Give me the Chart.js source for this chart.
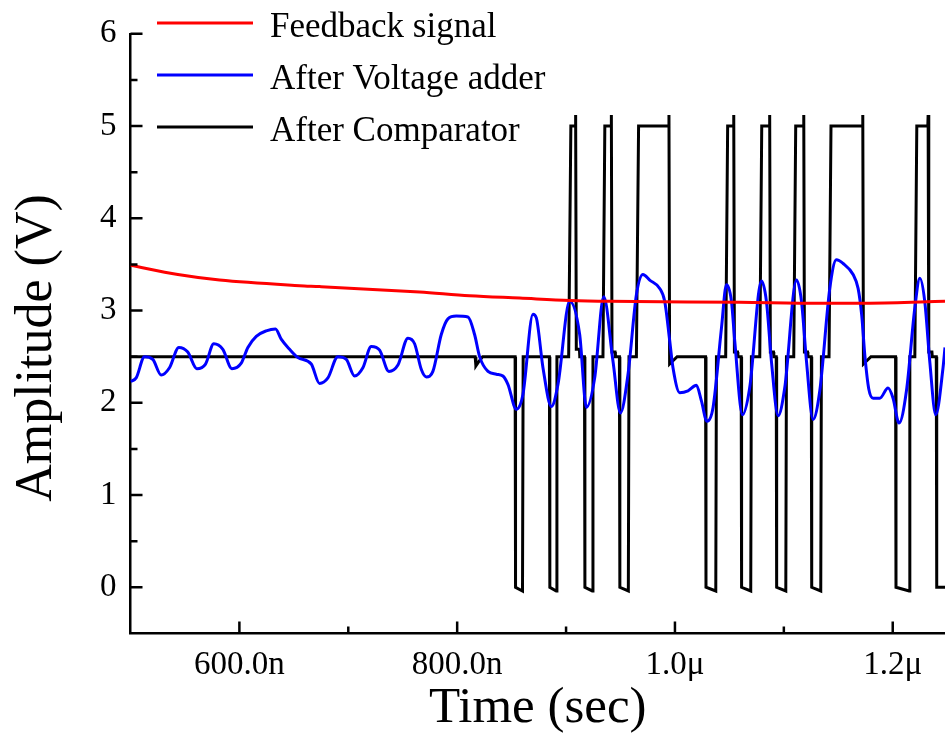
<!DOCTYPE html>
<html>
<head>
<meta charset="utf-8">
<title>Comparator output</title>
<script src="https://cdn.jsdelivr.net/npm/chart.js@4.4.1/dist/chart.umd.min.js"></script>
<style>
    html, body { margin: 0; padding: 0; background: #fff; }
    #wrap { width: 945px; height: 755px; position: relative; }
</style>
</head>
<body>
<div id="wrap"><canvas id="scope-chart"></canvas></div>
<script>
// time in ns, amplitude in V
const feedback_t = [500, 543.5, 581.8, 655.3, 673.6, 765.5, 811.4, 857.4, 903.3, 940, 1059.5, 1133, 1179, 1248];
const feedback_v = [3.49, 3.39, 3.33, 3.27, 3.26, 3.20, 3.16, 3.135, 3.11, 3.10, 3.09, 3.08, 3.08, 3.10];

const adder_t = [500, 505.2, 512.9, 520.5, 528.2, 535.8, 544.4, 552.6, 560.9, 568.9, 576.5, 584.8, 593.1, 601.7,
    607.8, 615.5, 624.7, 633.2, 638.4, 646.1, 653.7, 666.0, 673.6, 681.3, 690.4, 698.2, 705.8, 713.4, 721.1,
    728.8, 737.3, 745.6, 754.8, 760.9, 767.1, 771.7, 777.7, 785.4, 791.5, 799.2, 809.9, 816.0, 820.6, 828.3,
    836.0, 842.0, 846.6, 854.3, 860.4, 869.6, 872.7, 878.8, 886.5, 892.6, 903.3, 912.5, 918.7, 926.3, 934.6,
    943.1, 949.9, 956.9, 964.6, 970.6, 976.8, 986.0, 990.6, 995.2, 998.2, 1004.4, 1012.0, 1019.7, 1024.3,
    1029.4, 1035.0, 1042.7, 1047.3, 1051.9, 1054.9, 1062.0, 1068.6, 1079.4, 1084.0, 1088.6, 1094.7, 1100.8,
    1111.6, 1116.2, 1120.8, 1126.8, 1133.0, 1142.2, 1148.3, 1154.4, 1163.6, 1168.2, 1171.5, 1174.5, 1178.0,
    1182.0, 1188.1, 1195.7, 1200.3, 1205.8, 1212.6, 1220.3, 1224.9, 1229.4, 1234.0, 1239.5, 1246.2, 1248];
const adder_v = [2.23, 2.27, 2.50, 2.47, 2.30, 2.38, 2.60, 2.55, 2.37, 2.42, 2.64, 2.58, 2.37, 2.43,
    2.60, 2.72, 2.78, 2.80, 2.69, 2.58, 2.49, 2.42, 2.21, 2.27, 2.50, 2.47, 2.29, 2.38, 2.61,
    2.57, 2.34, 2.41, 2.70, 2.64, 2.36, 2.28, 2.34, 2.74, 2.91, 2.94, 2.93, 2.74, 2.50, 2.34,
    2.31, 2.29, 2.20, 1.93, 2.09, 2.96, 2.92, 2.38, 1.96, 2.20, 3.10, 2.74, 1.95, 2.27, 3.15,
    2.45, 1.89, 2.31, 3.17, 3.39, 3.33, 3.24, 3.10, 2.67, 2.38, 2.11, 2.13, 2.19, 2.02,
    1.80, 1.95, 2.81, 3.28, 3.10, 2.67, 1.87, 2.16, 3.32, 3.10, 2.45, 1.86, 2.16,
    3.33, 3.10, 2.45, 1.82, 2.13, 3.24, 3.55, 3.51, 3.39, 3.24, 2.95, 2.50, 2.15,
    2.05, 2.05, 2.16, 2.05, 1.78, 2.13, 3.03, 3.35, 3.10, 2.45, 1.87, 2.38, 2.60];

const comparator_t = [500, 816.5, 817.2, 819.5, 823.4,
    853.2, 853.6, 860.0, 860.6, 884.7, 885.1, 891.0, 891.6,
    902.4, 904.4, 908.5, 908.8, 909.4, 912.3, 912.6,
    916.9, 917.3, 924.1, 924.7,
    933.9, 935.6, 941.3, 941.6, 942.2, 945.0, 945.3,
    949.0, 949.4, 957.2, 957.8,
    964.6, 966.6, 994.2, 994.5, 995.1, 1002,
    1028.1, 1028.5, 1037.5, 1038.1,
    1046.6, 1048.4, 1053.7, 1054.0, 1054.6, 1057.5, 1057.8,
    1060.8, 1061.2, 1069.6, 1070.2,
    1077.9, 1079.7, 1086.7, 1087.0, 1087.6, 1090.5, 1090.8,
    1093.0, 1093.4, 1101.8, 1102.4,
    1109.1, 1110.9, 1118.0, 1118.3, 1118.9, 1121.8, 1122.1,
    1125.2, 1125.6, 1133.9, 1134.5,
    1141.5, 1143.3, 1172.2, 1172.5, 1173.1, 1180,
    1202.6, 1203.0, 1215.1, 1215.7,
    1220.3, 1222.1, 1232.2, 1232.5, 1233.1, 1236.0, 1236.3,
    1240.0, 1240.4, 1248];
const comparator_v = [2.5, 2.5, 2.4, 2.44, 2.5,
    2.5, 0, -0.04, 2.5, 2.5, 0, -0.04, 2.5,
    2.5, 5.0, 5.0, 5.12, 2.58, 2.58, 2.5,
    2.5, 0, -0.04, 2.5,
    2.5, 5.0, 5.0, 5.12, 2.55, 2.55, 2.5,
    2.5, 0, -0.04, 2.5,
    2.5, 5.0, 5.0, 5.12, 2.42, 2.5,
    2.5, 0, -0.04, 2.5,
    2.5, 5.0, 5.0, 5.12, 2.55, 2.55, 2.5,
    2.5, 0, -0.04, 2.5,
    2.5, 5.0, 5.0, 5.12, 2.55, 2.55, 2.5,
    2.5, 0, -0.04, 2.5,
    2.5, 5.0, 5.0, 5.12, 2.55, 2.55, 2.5,
    2.5, 0, -0.04, 2.5,
    2.5, 5.0, 5.0, 5.12, 2.42, 2.5,
    2.5, 0, -0.04, 2.5,
    2.5, 5.0, 5.0, 5.12, 2.55, 2.55, 2.5,
    2.5, 0, 0];

const x_ticks = [600, 800, 1000, 1200];
const x_tick_labels = ["600.0n", "800.0n", "1.0\u03bc", "1.2\u03bc"];
const x_minor = [700, 900, 1100];
const y_ticks = [0, 1, 2, 3, 4, 5, 6];
const y_minor = [0.5, 1.5, 2.5, 3.5, 4.5, 5.5];
const y_title = 'Amplitude (V)';

const serif = '"Liberation Serif", "Times New Roman", serif';

function to_points(ts, vs) {
    return ts.map((t, i) => ({ x: t, y: vs[i] }));
}

// tick marks point into the plot, majors longer than minors
const inner_ticks = {
    id: 'inner_ticks',
    afterDatasetsDraw(chart) {
        const ctx = chart.ctx;
        const xs = chart.scales.x;
        const ys = chart.scales.y;
        ctx.save();
        ctx.strokeStyle = '#000';
        ctx.lineWidth = 2.5;
        ctx.beginPath();
        x_ticks.forEach(v => { const p = xs.getPixelForValue(v); ctx.moveTo(p, ys.bottom); ctx.lineTo(p, ys.bottom - 12); });
        x_minor.forEach(v => { const p = xs.getPixelForValue(v); ctx.moveTo(p, ys.bottom); ctx.lineTo(p, ys.bottom - 7); });
        y_ticks.forEach(v => { const p = ys.getPixelForValue(v); ctx.moveTo(xs.left, p); ctx.lineTo(xs.left + 12, p); });
        y_minor.forEach(v => { const p = ys.getPixelForValue(v); ctx.moveTo(xs.left, p); ctx.lineTo(xs.left + 7, p); });
        ctx.stroke();
        ctx.restore();
    }
};

// legend in the top left corner (partly above the plot) and the rotated y title
const line_legend = {
    id: 'line_legend',
    afterDraw(chart) {
        const ctx = chart.ctx;
        ctx.save();
        ctx.font = '35px ' + serif;
        ctx.textBaseline = 'alphabetic';
        ctx.fillStyle = '#000';
        chart.data.datasets.forEach((ds, i) => {
            const ly = 23 + i * 52;
            ctx.strokeStyle = ds.borderColor;
            ctx.lineWidth = 3;
            ctx.beginPath();
            ctx.moveTo(157, ly);
            ctx.lineTo(253, ly);
            ctx.stroke();
            ctx.fillText(ds.label, 270, ly + 14);
        });

        ctx.translate(37, 348);
        ctx.rotate(-Math.PI / 2);
        ctx.font = '52px ' + serif;
        ctx.textAlign = 'center';
        ctx.textBaseline = 'middle';
        ctx.fillText(y_title, 0, 0);
        ctx.restore();
    }
};

onload = () => {
    new Chart(document.getElementById('scope-chart'), {
        type: 'line',
        data: {
            datasets: [
                {
                    label: 'Feedback signal',
                    data: to_points(feedback_t, feedback_v),
                    borderColor: '#ff0000',
                    borderWidth: 3,
                    pointRadius: 0,
                    cubicInterpolationMode: 'monotone'
                },
                {
                    label: 'After Voltage adder',
                    data: to_points(adder_t, adder_v),
                    borderColor: '#0000ff',
                    borderWidth: 3,
                    pointRadius: 0,
                    cubicInterpolationMode: 'monotone'
                },
                {
                    label: 'After Comparator',
                    data: to_points(comparator_t, comparator_v),
                    borderColor: '#000000',
                    borderWidth: 3,
                    pointRadius: 0,
                    tension: 0
                }
            ]
        },
        options: {
            responsive: true,
            maintainAspectRatio: false,
            animation: false,
            layout: {
                padding: { left: 86, top: 31, right: 0, bottom: 0 }
            },
            scales: {
                x: {
                    type: 'linear',
                    min: 500,
                    max: 1248,
                    afterBuildTicks: (scale) => { scale.ticks = x_ticks.map(v => ({ value: v })); },
                    grid: { display: false, drawTicks: false },
                    border: { display: true, color: '#000', width: 2.5 },
                    ticks: {
                        color: '#000',
                        font: { family: serif, size: 33 },
                        padding: 12,
                        maxRotation: 0,
                        callback: function (value) {
                            return x_tick_labels[x_ticks.indexOf(value)];
                        }
                    },
                    title: {
                        display: true,
                        text: 'Time (sec)',
                        color: '#000',
                        font: { family: serif, size: 51, lineHeight: 1 },
                        padding: { top: -14, bottom: 21 }
                    }
                },
                y: {
                    min: -0.5,
                    max: 6,
                    afterBuildTicks: (scale) => { scale.ticks = y_ticks.map(v => ({ value: v })); },
                    grid: { display: false, drawTicks: false },
                    border: { display: true, color: '#000', width: 2.5 },
                    ticks: {
                        color: '#000',
                        font: { family: serif, size: 33 },
                        padding: 14
                    }
                }
            },
            plugins: {
                legend: { display: false },
                tooltip: { enabled: false }
            }
        },
        plugins: [inner_ticks, line_legend]
    });
};
</script>
</body>
</html>
